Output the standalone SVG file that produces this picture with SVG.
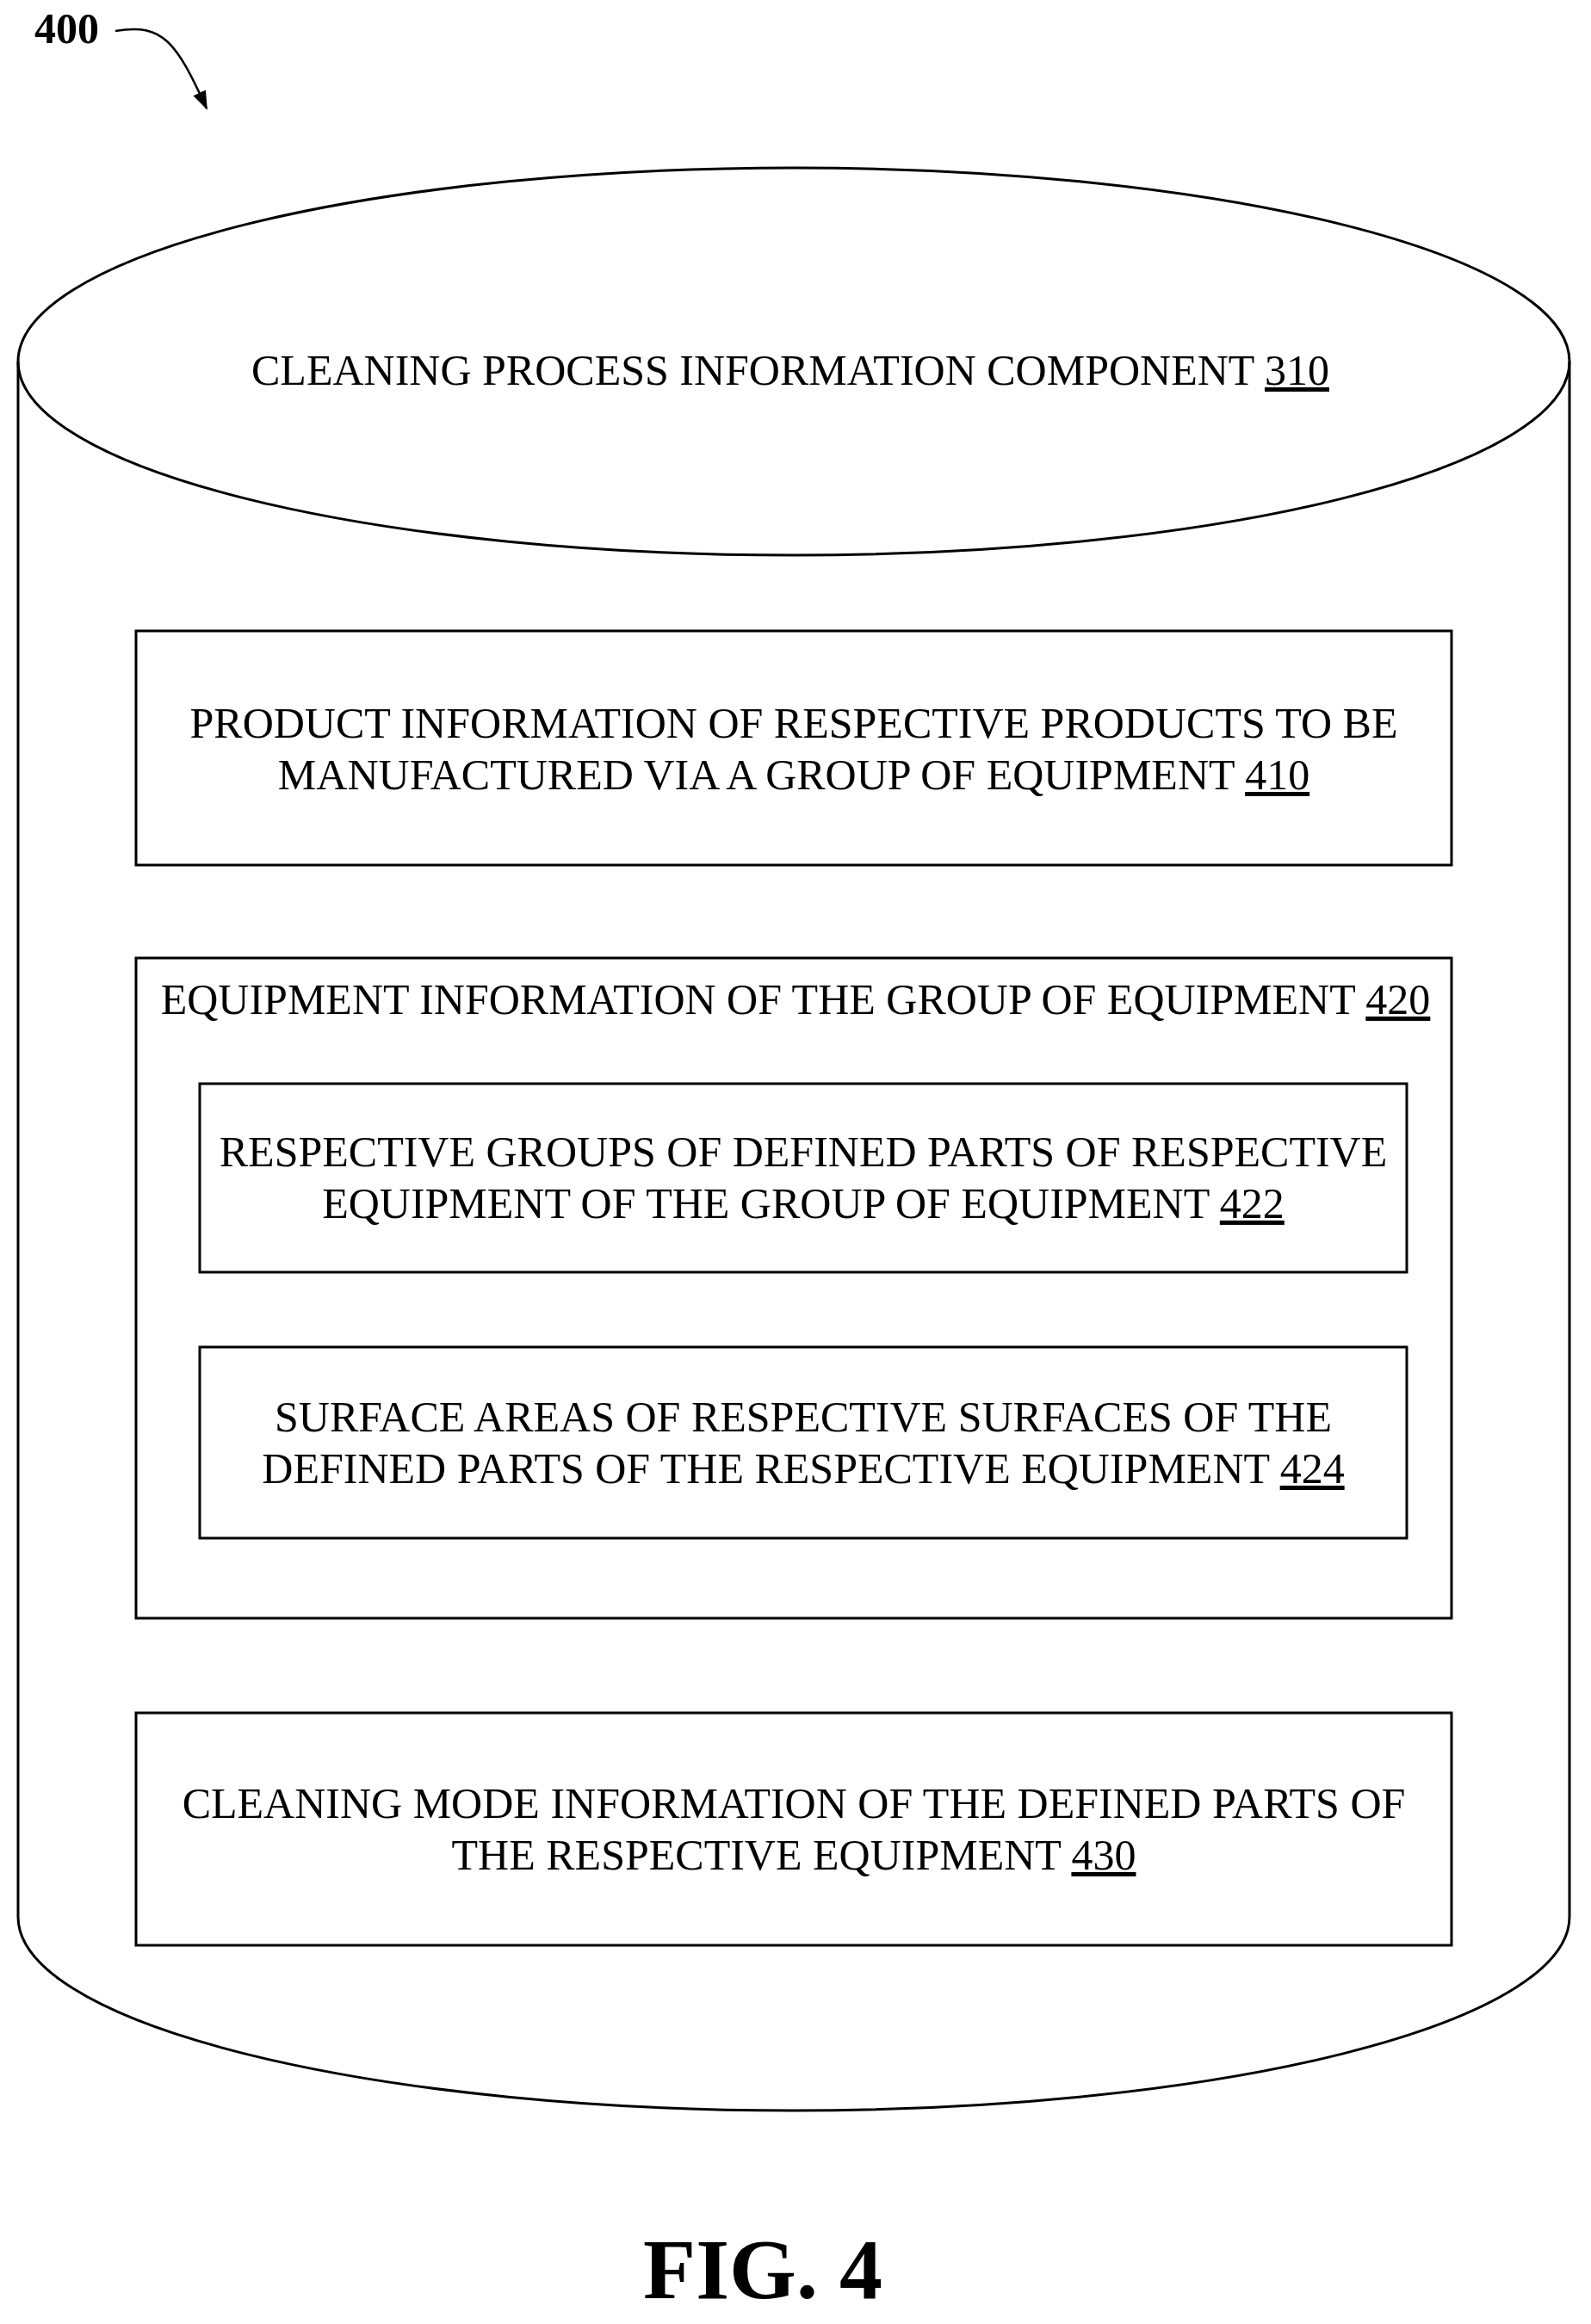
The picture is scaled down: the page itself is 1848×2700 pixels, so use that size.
<svg xmlns="http://www.w3.org/2000/svg" width="1848" height="2700" viewBox="0 0 1848 2700">
<style>
.s{fill:none;stroke:#000;stroke-width:3}
.t{font-family:"Liberation Serif",serif;font-size:50px;fill:#000;text-anchor:middle}
.u{text-decoration:underline}
</style>
<defs><marker id="ah" markerWidth="22" markerHeight="22" refX="20" refY="8" orient="auto" markerUnits="userSpaceOnUse" viewBox="0 0 22 16"><path d="M0,0 L22,8 L0,16 z" fill="#000"/></marker></defs>
<rect width="1848" height="2700" fill="#fff"/>
<g id="label400">
<text x="40" y="50" style="font-family:'Liberation Serif',serif;font-size:50px;font-weight:bold">400</text>
<path d="M134,36 C190,26 205,50 240,126" class="s" style="stroke-width:2.5" marker-end="url(#ah)"/>
</g>
<g id="cylinder310">
<path d="M21,420 L21,2227 A901,225 0 0 0 1823,2227 L1823,420" class="s"/>
<ellipse cx="922" cy="420" rx="901" ry="225" class="s"/>
<text x="918" y="447" class="t">CLEANING PROCESS INFORMATION COMPONENT  <tspan class="u">310</tspan></text>
</g>
<g id="n410">
<rect x="158" y="733" width="1528" height="272" class="s"/>
<text x="922" y="857" class="t">PRODUCT INFORMATION OF RESPECTIVE PRODUCTS TO BE</text>
<text x="922" y="917" class="t">MANUFACTURED VIA A GROUP OF EQUIPMENT <tspan class="u">410</tspan></text>
</g>
<g id="n420">
<rect x="158" y="1113" width="1528" height="767" class="s"/>
<text x="924" y="1178" class="t">EQUIPMENT INFORMATION OF THE GROUP OF EQUIPMENT  <tspan class="u">420</tspan></text>
</g>
<g id="n422">
<rect x="232" y="1259" width="1402" height="219" class="s"/>
<text x="933" y="1355" class="t">RESPECTIVE GROUPS OF DEFINED PARTS OF RESPECTIVE</text>
<text x="933" y="1415" class="t">EQUIPMENT OF THE GROUP OF EQUIPMENT <tspan class="u">422</tspan></text>
</g>
<g id="n424">
<rect x="232" y="1565" width="1402" height="222" class="s"/>
<text x="933" y="1663" class="t">SURFACE AREAS OF RESPECTIVE SURFACES OF THE</text>
<text x="933" y="1723" class="t">DEFINED PARTS OF THE RESPECTIVE EQUIPMENT <tspan class="u">424</tspan></text>
</g>
<g id="n430">
<rect x="158" y="1990" width="1528" height="270" class="s"/>
<text x="922" y="2112" class="t">CLEANING MODE INFORMATION OF THE DEFINED PARTS OF</text>
<text x="922" y="2172" class="t">THE RESPECTIVE EQUIPMENT <tspan class="u">430</tspan></text>
</g>
<g id="connectors"></g>
<text x="886" y="2670" style="font-family:'Liberation Serif',serif;font-size:100px;font-weight:bold;text-anchor:middle">FIG. 4</text>
</svg>
